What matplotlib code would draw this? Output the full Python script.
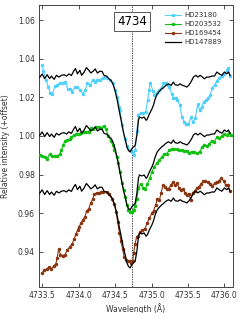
import numpy as np
import matplotlib
matplotlib.use('Agg')
import matplotlib.pyplot as plt

# HD147889 comparison spectrum (drawn three times with offsets)
wl_ref = [4733.462, 4733.496, 4733.530, 4733.565, 4733.599, 4733.624, 4733.661, 4733.692,
          4733.725, 4733.761, 4733.798, 4733.830, 4733.863, 4733.898, 4733.929, 4733.953,
          4733.981, 4734.014, 4734.038, 4734.073, 4734.104, 4734.137, 4734.165, 4734.196,
          4734.224, 4734.255, 4734.288, 4734.320, 4734.347, 4734.382, 4734.416, 4734.444,
          4734.471, 4734.499, 4734.530, 4734.558, 4734.591, 4734.613, 4734.636, 4734.659,
          4734.681, 4734.705, 4734.728, 4734.750, 4734.773, 4734.797, 4734.819, 4734.832,
          4734.865, 4734.897, 4734.924, 4734.942, 4734.970, 4735.003, 4735.025, 4735.048,
          4735.076, 4735.103, 4735.137, 4735.165, 4735.192, 4735.231, 4735.268, 4735.299,
          4735.323, 4735.360, 4735.392, 4735.423, 4735.451, 4735.484, 4735.515, 4735.552,
          4735.574, 4735.607, 4735.635, 4735.666, 4735.698, 4735.725, 4735.758, 4735.790,
          4735.827, 4735.863, 4735.896, 4735.927, 4735.964, 4736.000, 4736.033, 4736.055,
          4736.078]
hd147889 = [1.0003, 1.0021, 0.9997, 1.0017, 0.9997, 1.0010, 0.9993, 1.0014,
            1.0005, 1.0014, 1.0017, 1.0010, 1.0021, 1.0013, 1.0036, 1.0049,
            1.0022, 1.0040, 1.0014, 1.0031, 1.0054, 1.0040, 1.0026, 1.0035,
            1.0047, 1.0026, 1.0035, 1.0034, 1.0013, 1.0010, 0.9995, 0.9987,
            0.9966, 0.9933, 0.9881, 0.9824, 0.9762, 0.9718, 0.9686, 0.9645,
            0.9625, 0.9617, 0.9634, 0.9643, 0.9651, 0.9703, 0.9781, 0.9798,
            0.9793, 0.9798, 0.9781, 0.9789, 0.9815, 0.9839, 0.9860, 0.9891,
            0.9917, 0.9930, 0.9943, 0.9951, 0.9961, 0.9970, 0.9962, 0.9979,
            0.9965, 0.9962, 0.9970, 0.9962, 0.9959, 0.9953, 0.9965, 0.9988,
            1.0005, 1.0014, 1.0005, 1.0014, 1.0005, 0.9996, 1.0005, 1.0005,
            1.0010, 1.0010, 1.0031, 1.0022, 1.0014, 1.0031, 1.0022, 1.0031,
            1.0014]
ref_offsets = [0.03, 0.0, -0.03]

wl_23180 = [4733.492, 4733.514, 4733.547, 4733.582, 4733.606, 4733.637, 4733.674, 4733.706,
            4733.743, 4733.780, 4733.812, 4733.849, 4733.881, 4733.904, 4733.949, 4733.981,
            4734.018, 4734.055, 4734.087, 4734.118, 4734.155, 4734.192, 4734.224, 4734.256,
            4734.293, 4734.330, 4734.361, 4734.393, 4734.430, 4734.467, 4734.499, 4734.530,
            4734.558, 4734.567, 4734.595, 4734.629, 4734.663, 4734.698, 4734.725, 4734.753,
            4734.773, 4734.797, 4734.819, 4734.849, 4734.883, 4734.918, 4734.945, 4734.966,
            4734.979, 4735.017, 4735.038, 4735.071, 4735.103, 4735.140, 4735.162, 4735.195,
            4735.223, 4735.245, 4735.277, 4735.299, 4735.332, 4735.354, 4735.385, 4735.415,
            4735.446, 4735.474, 4735.506, 4735.538, 4735.566, 4735.598, 4735.632, 4735.659,
            4735.687, 4735.714, 4735.744, 4735.773, 4735.804, 4735.834, 4735.865, 4735.897,
            4735.927, 4735.962, 4735.996, 4736.033, 4736.055, 4736.078]
hd23180 = [1.0368, 1.0338, 1.0290, 1.0255, 1.0221, 1.0219, 1.0259, 1.0264,
           1.0276, 1.0273, 1.0281, 1.0242, 1.0245, 1.0228, 1.0252, 1.0252,
           1.0238, 1.0218, 1.0238, 1.0273, 1.0264, 1.0290, 1.0281, 1.0290,
           1.0290, 1.0302, 1.0304, 1.0300, 1.0290, 1.0273, 1.0238, 1.0204,
           1.0152, 1.0135, 1.0057, 0.9984, 0.9946, 0.9925, 0.9915, 0.9904,
           0.9927, 1.0026, 1.0109, 1.0117, 1.0119, 1.0124, 1.0186, 1.0238,
           1.0276, 1.0235, 1.0212, 1.0224, 1.0238, 1.0252, 1.0273, 1.0276,
           1.0264, 1.0252, 1.0216, 1.0197, 1.0199, 1.0186, 1.0161, 1.0100,
           1.0074, 1.0062, 1.0062, 1.0098, 1.0070, 1.0092, 1.0163, 1.0135,
           1.0148, 1.0176, 1.0186, 1.0194, 1.0212, 1.0249, 1.0264, 1.0287,
           1.0298, 1.0311, 1.0321, 1.0339, 1.0351, 1.0311]

wl_203532 = [4733.464, 4733.496, 4733.533, 4733.569, 4733.602, 4733.633, 4733.670, 4733.706,
             4733.739, 4733.761, 4733.784, 4733.808, 4733.843, 4733.876, 4733.898, 4733.935,
             4733.967, 4734.000, 4734.032, 4734.066, 4734.100, 4734.135, 4734.162, 4734.196,
             4734.238, 4734.272, 4734.306, 4734.341, 4734.375, 4734.407, 4734.440, 4734.467,
             4734.489, 4734.522, 4734.544, 4734.567, 4734.591, 4734.615, 4734.636, 4734.659,
             4734.681, 4734.705, 4734.728, 4734.753, 4734.773, 4734.797, 4734.819, 4734.849,
             4734.879, 4734.911, 4734.942, 4734.973, 4735.003, 4735.034, 4735.071, 4735.107,
             4735.140, 4735.172, 4735.206, 4735.240, 4735.275, 4735.309, 4735.346, 4735.378,
             4735.415, 4735.446, 4735.484, 4735.515, 4735.549, 4735.584, 4735.625, 4735.659,
             4735.694, 4735.725, 4735.758, 4735.790, 4735.827, 4735.863, 4735.896, 4735.927,
             4735.964, 4736.000, 4736.033, 4736.065, 4736.092]
hd203532 = [0.9902, 0.9896, 0.9893, 0.9883, 0.9909, 0.9894, 0.9896, 0.9896,
            0.9907, 0.9927, 0.9953, 0.9972, 0.9977, 0.9984, 0.9995, 1.0005,
            1.0008, 1.0010, 1.0013, 1.0023, 1.0018, 1.0023, 1.0039, 1.0036,
            1.0049, 1.0047, 1.0041, 1.0052, 1.0034, 1.0000, 0.9972, 0.9953,
            0.9927, 0.9891, 0.9860, 0.9814, 0.9757, 0.9720, 0.9684, 0.9643,
            0.9617, 0.9608, 0.9608, 0.9619, 0.9635, 0.9674, 0.9731, 0.9751,
            0.9733, 0.9725, 0.9751, 0.9782, 0.9814, 0.9839, 0.9860, 0.9876,
            0.9891, 0.9907, 0.9909, 0.9925, 0.9935, 0.9930, 0.9930, 0.9925,
            0.9925, 0.9920, 0.9924, 0.9912, 0.9919, 0.9919, 0.9912, 0.9919,
            0.9943, 0.9953, 0.9948, 0.9959, 0.9976, 0.9970, 0.9995, 0.9988,
            1.0000, 1.0010, 1.0005, 1.0014, 1.0005]

wl_169454 = [4733.489, 4733.523, 4733.558, 4733.589, 4733.620, 4733.654, 4733.684, 4733.702,
             4733.723, 4733.747, 4733.780, 4733.812, 4733.839, 4733.874, 4733.908, 4733.935,
             4733.960, 4733.984, 4734.004, 4734.029, 4734.052, 4734.082, 4734.107, 4734.135,
             4734.162, 4734.190, 4734.214, 4734.245, 4734.275, 4734.302, 4734.338, 4734.382,
             4734.416, 4734.451, 4734.485, 4734.512, 4734.533, 4734.558, 4734.578, 4734.602,
             4734.622, 4734.650, 4734.674, 4734.698, 4734.718, 4734.739, 4734.753, 4734.773,
             4734.794, 4734.819, 4734.846, 4734.874, 4734.904, 4734.938, 4734.970, 4735.003,
             4735.028, 4735.055, 4735.080, 4735.107, 4735.131, 4735.155, 4735.179, 4735.206,
             4735.234, 4735.264, 4735.293, 4735.323, 4735.350, 4735.378, 4735.405, 4735.433,
             4735.460, 4735.488, 4735.515, 4735.536, 4735.563, 4735.591, 4735.622, 4735.650,
             4735.680, 4735.712, 4735.739, 4735.772, 4735.803, 4735.831, 4735.865, 4735.897,
             4735.924, 4735.957, 4735.989, 4736.016, 4736.048, 4736.078]
hd169454 = [0.9288, 0.9306, 0.9311, 0.9321, 0.9311, 0.9327, 0.9337, 0.9368,
            0.9415, 0.9386, 0.9381, 0.9386, 0.9409, 0.9425, 0.9441, 0.9466,
            0.9492, 0.9513, 0.9531, 0.9547, 0.9565, 0.9580, 0.9612, 0.9623,
            0.9651, 0.9674, 0.9700, 0.9705, 0.9703, 0.9710, 0.9710, 0.9710,
            0.9697, 0.9676, 0.9648, 0.9606, 0.9555, 0.9500, 0.9456, 0.9415,
            0.9376, 0.9360, 0.9355, 0.9353, 0.9342, 0.9353, 0.9394, 0.9443,
            0.9479, 0.9482, 0.9505, 0.9513, 0.9518, 0.9547, 0.9575, 0.9600,
            0.9614, 0.9643, 0.9674, 0.9668, 0.9707, 0.9746, 0.9736, 0.9723,
            0.9728, 0.9746, 0.9762, 0.9744, 0.9755, 0.9729, 0.9720, 0.9725,
            0.9705, 0.9694, 0.9702, 0.9668, 0.9707, 0.9715, 0.9731, 0.9738,
            0.9751, 0.9768, 0.9769, 0.9760, 0.9751, 0.9741, 0.9755, 0.9763,
            0.9767, 0.9781, 0.9767, 0.9746, 0.9746, 0.9713]

dib_center = 4734.73
dib_label = '4734'

fig = plt.figure(figsize=(2.49, 3.13), dpi=100)
ax = fig.add_axes([0.157, 0.083, 0.778, 0.901])

stars = [(wl_23180, hd23180, '#4fd0fb', 'HD23180'),
         (wl_203532, hd203532, '#10c010', 'HD203532'),
         (wl_169454, hd169454, '#8a3510', 'HD169454')]
handles = []
for (w, f, c, name), off in zip(stars, ref_offsets):
    h, = ax.plot(w, f, color=c, lw=0.8, marker='o', ms=1.5, mec=c, label=name, zorder=3)
    handles.append(h)
    href, = ax.plot(wl_ref, np.array(hd147889) + off, color='black', lw=0.9, zorder=4,
                    label='HD147889')
handles.append(href)

ax.axvline(dib_center, color='black', lw=0.5, ls=(0, (2, 1.5)), zorder=1)
ax.text(dib_center, 1.0592, dib_label, ha='center', va='center', fontsize=8.5, zorder=6,
        bbox=dict(boxstyle='square,pad=0.25', fc='white', ec='#555555', lw=0.7))

ax.set_xlim(4733.454, 4736.115)
ax.set_ylim(0.9218, 1.0678)
ax.set_xticks([4733.5, 4734.0, 4734.5, 4735.0, 4735.5, 4736.0])
ax.set_xticklabels(['4733.5', '4734.0', '4734.5', '4735.0', '4735.5', '4736.0'])
ax.set_yticks([0.94, 0.96, 0.98, 1.00, 1.02, 1.04, 1.06])
ax.set_yticklabels(['0.94', '0.96', '0.98', '1.00', '1.02', '1.04', '1.06'])
ax.tick_params(direction='in', top=True, right=True, length=3, width=0.6,
               labelsize=5.5, colors='#333333', pad=3)
for s in ax.spines.values():
    s.set_linewidth(0.7)
    s.set_color('#444444')

ax.set_xlabel('Wavelength (Å)', fontsize=5.5, color='#333333', labelpad=2)
ax.set_ylabel('Relative intensity (+offset)', fontsize=5.5, color='#333333', labelpad=6)

leg = ax.legend(handles=handles, loc='upper right', bbox_to_anchor=(0.955, 0.985),
                frameon=False, fontsize=5, handlelength=2.4, handletextpad=0.4,
                labelspacing=0.45, borderaxespad=0)
for t in leg.get_texts():
    t.set_color('#333333')

plt.savefig('out.png', dpi=100)
plt.close()
